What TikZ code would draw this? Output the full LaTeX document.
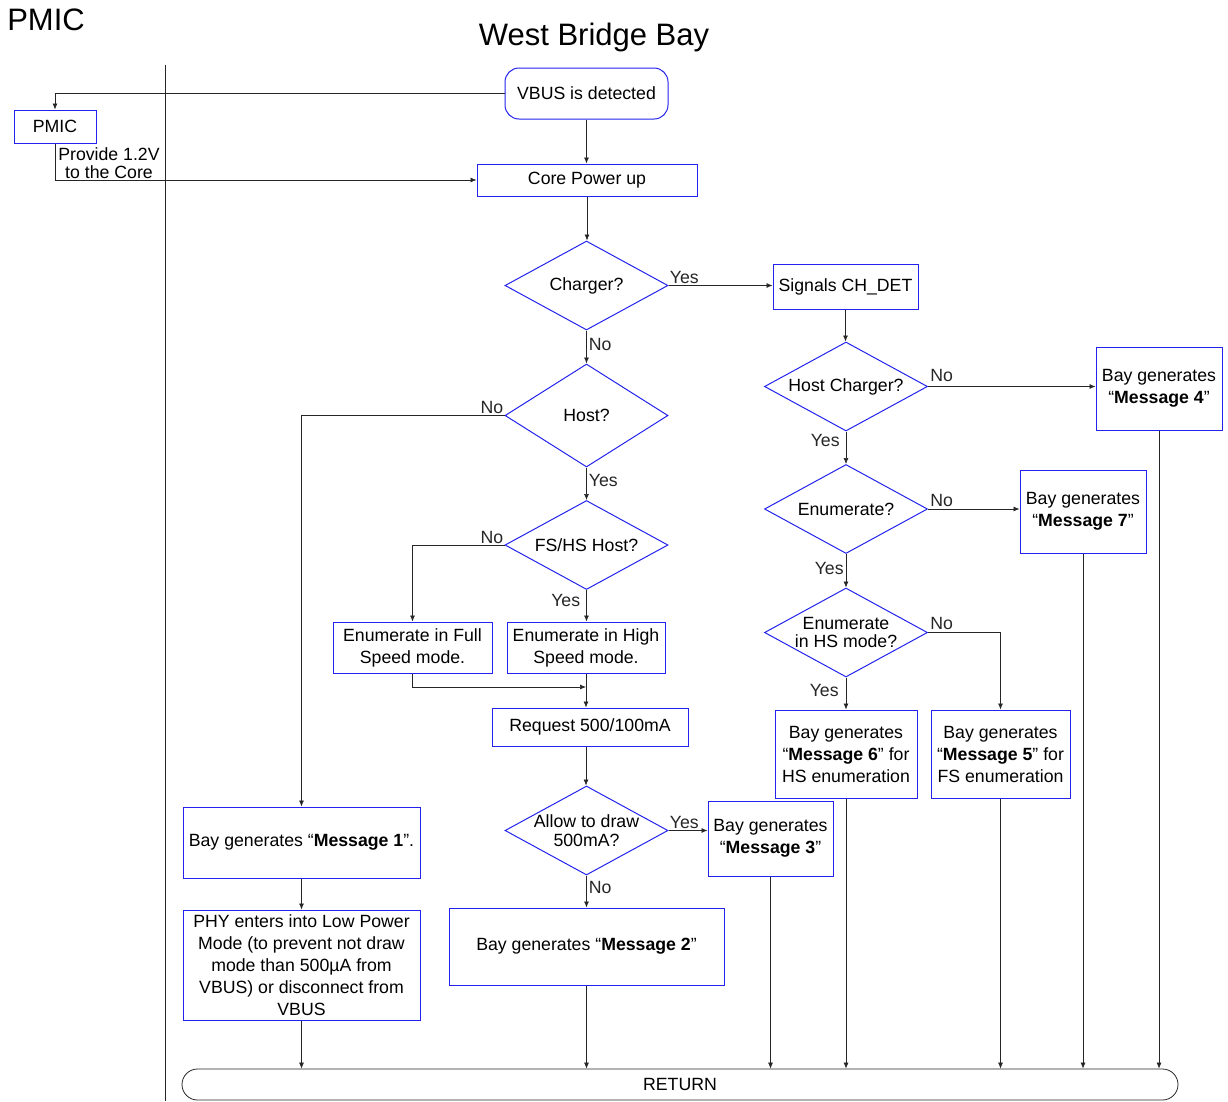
\documentclass[tikz,border=0pt]{standalone}
\usepackage{fontspec}
\setmainfont{Liberation Sans}
\usetikzlibrary{arrows.meta, shapes.geometric}
\definecolor{boxblue}{RGB}{35,35,235}
\newcommand{\fs}{\fontsize{17.7}{22}\selectfont}
\newcommand{\tightfs}{\fontsize{17.7}{18.5}\selectfont}
\newcommand{\bigfs}{\fontsize{31}{36}\selectfont}
\tikzset{
  base/.style = {align=center, inner sep=1pt, font=\fs},
  proc/.style = {base, rectangle, draw=boxblue, line width=1pt},
  dim/.style 2 args = {minimum width=#1pt, minimum height=#2pt},
  decision/.style = {diamond, draw=boxblue, line width=1pt, inner sep=0pt,
    minimum width=163pt, minimum height=89pt,
    label={[base, font=\tightfs]center:{#1}}},
  lbl/.style = {base, inner sep=2pt},
  arr/.style = {-{Latex[length=6pt,width=5pt]}, line width=0.7pt, black!85},
  line/.style = {line width=0.7pt, black!85},
}

\begin{document}
\begin{tikzpicture}[x=1pt, y=-1pt]
\useasboundingbox (0,0) rectangle (1228,1101);

% titles and lane divider
\node [base, font=\bigfs] (pmictitle) at (46,20) {PMIC};
\node [base, font=\bigfs] (title) at (594,37) {West Bridge Bay};
\draw [line] (165,65) -- (165,1101);

% start
\node [proc, rounded corners=14pt, dim={163}{51}] (vbus) at (586.5,93.5) {VBUS is detected};
\node [proc, dim={82}{33}] (pmic) at (55,126.5) {PMIC};
\node [proc, dim={220}{32}] (core) at (587,180) {Core Power up};
\node [lbl, inner sep=1pt, font=\fontsize{17.7}{18}\selectfont] (provide) at (109,163) {Provide 1.2V\\to the Core};

% middle column
\node [decision={Charger?}] (charger) at (586.5,285.5) {};
\node [decision={Host?}, minimum height=103pt] (host) at (586.5,415.5) {};
\node [decision={FS/HS Host?}] (fshs) at (586.5,545) {};
\node [proc, dim={159}{51}] (full) at (412.5,647.5) {Enumerate in Full\\Speed mode.};
\node [proc, dim={158}{51}] (high) at (586,647.5) {Enumerate in High\\Speed mode.};
\coordinate (merge) at (586,687);
\node [proc, dim={196}{38}] (req) at (590,727) {Request 500/100mA};
\node [decision={Allow to draw\\500mA?}] (allow) at (586.5,830.5) {};
\node [proc, dim={125}{75}] (m3) at (770.5,838.5) {Bay generates\\“\textbf{Message 3}”};
\node [proc, dim={275}{77}] (m2) at (586.5,946.5) {Bay generates “\textbf{Message 2}”};

% left column
\node [proc, dim={237}{71}] (m1) at (301.5,842.5) {Bay generates “\textbf{Message 1}”.};
\node [proc, dim={237}{110}] (phy) at (301.5,965) {PHY enters into Low Power\\Mode (to prevent not draw\\mode than 500µA from\\VBUS) or disconnect from\\VBUS};

% right column
\node [proc, dim={145}{45}] (sig) at (845.5,286.5) {Signals CH\_DET};
\node [decision={Host Charger?}] (hostch) at (846,386.5) {};
\node [proc, dim={126}{83}] (m4) at (1159,388.5) {Bay generates\\“\textbf{Message 4}”};
\node [decision={Enumerate?}] (enum) at (846,509) {};
\node [proc, dim={126}{83}] (m7) at (1083,511.5) {Bay generates\\“\textbf{Message 7}”};
\node [decision={Enumerate\\in HS mode?}] (hs) at (846,632.5) {};
\node [proc, dim={142}{88}] (m6) at (846,754) {Bay generates\\“\textbf{Message 6}” for\\HS enumeration};
\node [proc, dim={139}{88}] (m5) at (1000.5,754) {Bay generates\\“\textbf{Message 5}” for\\FS enumeration};

\node [base, draw=black!85, line width=0.8pt, rounded corners=15.5pt, dim={996}{31}] (ret) at (680,1084.5) {RETURN};

% connectors
\draw [arr] (vbus.west) -| (pmic.north);
\draw [arr] (pmic.south) |- (core.west);
\draw [arr] (vbus.south) -- (vbus.south |- core.north);
\draw [arr] (core.south) -- (core.south |- charger.north);
\draw [arr] (charger.east) -- node [lbl, pos=0, above right, inner sep=1pt] {Yes} (charger.east -| sig.west);
\draw [arr] (charger.south) -- node [lbl, pos=0, below right, yshift=-5pt] {No} (host.north);
\draw [arr] (host.west) -| node [lbl, pos=0, above left, inner sep=1pt] {No} (m1.north);
\draw [arr] (host.south) -- node [lbl, pos=0, below right, yshift=-4pt] {Yes} (fshs.north);
\draw [arr] (fshs.west) -| node [lbl, pos=0, above left, inner sep=1pt] {No} (full.north);
\draw [arr] (fshs.south) -- node [lbl, pos=0, below left, xshift=-4pt, yshift=-2pt] {Yes} (fshs.south |- high.north);
\draw [arr] (full.south) |- (merge);
\draw [arr] (high.south) -- (high.south |- req.north);
\draw [arr] (req.south -| high.south) -- (high.south |- allow.north);
\draw [arr] (allow.east) -- node [lbl, pos=0, above right, inner sep=1pt] {Yes} (allow.east -| m3.west);
\draw [arr] (allow.south) -- node [lbl, pos=0, below right, yshift=-3pt] {No} (allow.south |- m2.north);
\draw [arr] (m1.south) -- (phy.north);

\draw [arr] (sig.south) -- (sig.south |- hostch.north);
\draw [arr] (hostch.east) -- node [lbl, pos=0, above right, yshift=2pt] {No} (hostch.east -| m4.west);
\draw [arr] (hostch.south) -- node [lbl, pos=0, below left, xshift=-4pt] {Yes} (enum.north);
\draw [arr] (enum.east) -- node [lbl, pos=0, above right] {No} (enum.east -| m7.west);
\draw [arr] (enum.south) -- node [lbl, pos=0, below left, yshift=-6pt] {Yes} (hs.north);
\draw [arr] (hs.east) -| node [lbl, pos=0, above right] {No} (m5.north);
\draw [arr] (hs.south) -- node [lbl, pos=0, below left, xshift=-5pt, yshift=-4pt] {Yes} (m6.north);

% everything ends in RETURN
\draw [arr] (phy.south) -- (phy.south |- ret.north);
\draw [arr] (m2.south) -- (m2.south |- ret.north);
\draw [arr] (m3.south) -- (m3.south |- ret.north);
\draw [arr] (m6.south) -- (m6.south |- ret.north);
\draw [arr] (m5.south) -- (m5.south |- ret.north);
\draw [arr] (m7.south) -- (m7.south |- ret.north);
\draw [arr] (m4.south) -- (m4.south |- ret.north);
\end{tikzpicture}
\end{document}
